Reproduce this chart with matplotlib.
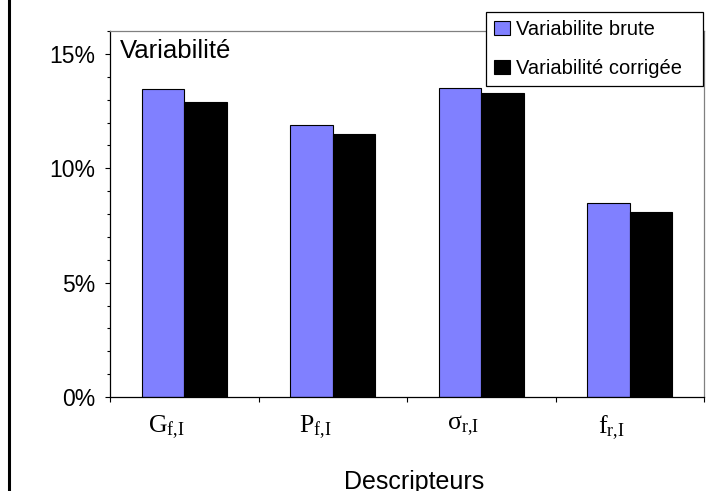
import matplotlib
matplotlib.use("Agg")
import matplotlib.pyplot as plt
import matplotlib.transforms as mtransforms
from matplotlib.patches import Patch
from matplotlib.lines import Line2D
from matplotlib.ticker import MultipleLocator, FuncFormatter

plt.rcParams['mathtext.fontset'] = 'custom'
plt.rcParams['mathtext.rm'] = 'Liberation Serif'
plt.rcParams['mathtext.it'] = 'Liberation Serif:italic'
plt.rcParams['font.family'] = ['Liberation Sans', 'DejaVu Sans']

categories = ["G$_{\\rm f{,}I}$", "P$_{\\rm f{,}I}$", "\u03c3$_{\\rm r{,}I}$", "f$_{\\rm r{,}I}$"]
brute = [13.45, 11.89, 13.53, 8.49]
corrigee = [12.88, 11.50, 13.29, 8.10]
series_names = ["Variabilite brute", "Variabilité corrigée"]
yticks = [0, 5, 10, 15]

W, H = 721, 491
fig = plt.figure(figsize=(W / 100, H / 100), dpi=100)
ax = fig.add_axes([110 / W, 1 - 397 / H, (704 - 110) / W, (397 - 31) / H])

x = list(range(len(categories)))
bw = 0.285
ax.bar([i - bw / 2 for i in x], brute, width=bw, color="#8080FF",
       edgecolor="black", linewidth=0.8, zorder=2)
ax.bar([i + bw / 2 for i in x], corrigee, width=bw, color="black",
       edgecolor="black", linewidth=0.8, zorder=2)

ax.set_xlim(-0.5, len(categories) - 0.5)
ax.set_ylim(0, 16)

ax.set_yticks(yticks)
ax.yaxis.set_major_formatter(FuncFormatter(lambda v, p: f"{int(v)}%"))
ax.yaxis.set_minor_locator(MultipleLocator(1))
ax.tick_params(axis='y', which='major', length=3.6, width=0.8, labelsize=16.5, pad=7, direction='out')
ax.tick_params(axis='y', which='minor', length=2.4, width=0.8, direction='out')

ax.set_xticks([i - 0.5 for i in range(len(categories) + 1)])
ax.set_xticklabels([])
ax.set_xticks(x, minor=True)
ax.set_xticklabels(categories, minor=True, fontfamily='Liberation Serif', fontsize=18.5)
ax.tick_params(axis='x', which='major', length=3.6, width=0.8, direction='out')
ax.tick_params(axis='x', which='minor', length=0, pad=12)
off = mtransforms.ScaledTranslation(-18 / 100, 0, fig.dpi_scale_trans)
for lab in ax.get_xticklabels(minor=True):
    lab.set_transform(lab.get_transform() + off)

for s in ['left', 'bottom']:
    ax.spines[s].set_color('black')
    ax.spines[s].set_linewidth(0.9)
for s in ['top', 'right']:
    ax.spines[s].set_color('#808080')
    ax.spines[s].set_linewidth(0.9)

ax.text(0.017, 0.926, "Variabilité", transform=ax.transAxes, fontsize=18.5,
        ha='left', va='baseline')

fig.text(414 / W, 1 - 489.5 / H, "Descripteurs", fontsize=18, ha='center', va='baseline')

handles = [Patch(facecolor="#8080FF", edgecolor="black", linewidth=0.8),
           Patch(facecolor="black", edgecolor="black", linewidth=0.8)]
leg = fig.legend(handles, series_names, loc='upper left',
                 bbox_to_anchor=(486 / W, 1 - 88 / H, (703 - 486) / W, (88 - 12) / H),
                 mode='expand', fontsize=14.5,
                 frameon=True, fancybox=False, shadow=False, borderaxespad=0,
                 handlelength=0.8, handleheight=0.65, handletextpad=0.3,
                 labelspacing=1.0, borderpad=0.4)
leg.get_frame().set_edgecolor('black')
leg.get_frame().set_linewidth(0.9)
leg.get_frame().set_alpha(1)

fig.add_artist(Line2D([8.5 / W, 8.5 / W], [0, 1], transform=fig.transFigure,
                      color='black', linewidth=2.2))

fig.savefig("out.png", dpi=100)
